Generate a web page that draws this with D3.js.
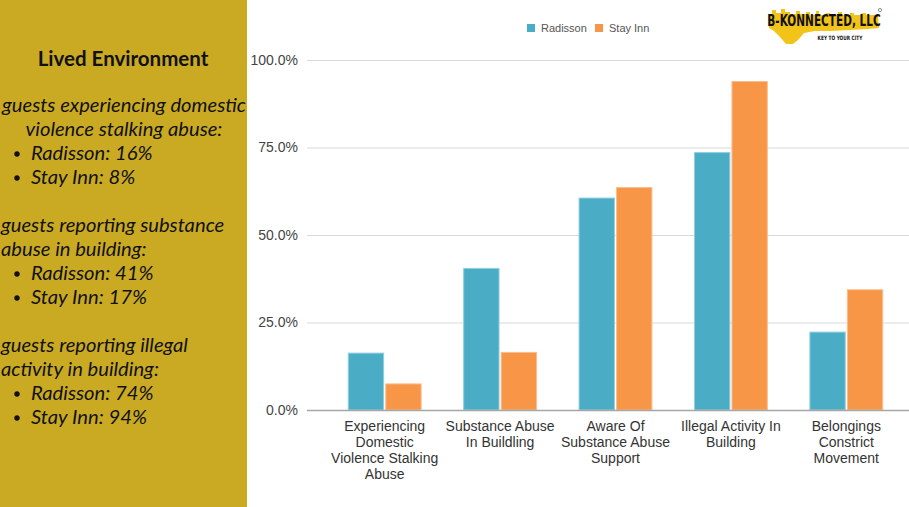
<!DOCTYPE html>
<html><head><meta charset="utf-8">
<script src="https://cdn.jsdelivr.net/npm/d3@7"></script>
<style>
html,body{margin:0;padding:0;background:#fff;}
svg{display:block;}
</style></head>
<body>
<svg id="chart" width="909" height="507"></svg>
<script>
const categories = [
  ["Experiencing","Domestic","Violence Stalking","Abuse"],
  ["Substance Abuse","In Buildling"],
  ["Aware Of","Substance Abuse","Support"],
  ["Illegal Activity In","Building"],
  ["Belongings","Constrict","Movement"]
];
const seriesNames = ["Radisson","Stay Inn"];
const radisson = [16.4, 40.6, 60.7, 73.7, 22.4];
const stayInn = [7.6, 16.6, 63.7, 94.0, 34.5];
const yTicks = [0, 25, 50, 75, 100];
const colors = ["#4BACC6","#F79646"];
const strokes = ["#8fd0e0","#fbbd8e"];

const panelTitle = "Lived Environment";
const panelBlocks = [
  {lines:["guests experiencing domestic","violence stalking abuse:"], center:true, bullets:["Radisson: 16%","Stay Inn: 8%"]},
  {lines:["guests reporting substance","abuse in building:"], center:false, bullets:["Radisson: 41%","Stay Inn: 17%"]},
  {lines:["guests reporting illegal","activity in building:"], center:false, bullets:["Radisson: 74%","Stay Inn: 94%"]}
];

const svg = d3.select("#chart");

// left panel
svg.append("rect").attr("x",0).attr("y",0).attr("width",247).attr("height",507).attr("fill","#CAAA23");
svg.append("text").attr("x",123).attr("y",66).attr("text-anchor","middle")
  .attr("font-family","Lato, 'Open Sans', sans-serif").attr("font-weight","bold").attr("font-size",20.5)
  .attr("fill","#111").text(panelTitle);

const panelFont = 20.2;
let yy = 112;
panelBlocks.forEach(b => {
  b.lines.forEach(l => {
    svg.append("text").attr("x", b.center ? 124 : 1).attr("y", yy)
      .attr("text-anchor", b.center ? "middle" : "start")
      .attr("font-family","Lato, 'Open Sans', sans-serif").attr("font-style","italic").attr("font-size",panelFont)
      .attr("fill","#111").text(l);
    yy += 24;
  });
  b.bullets.forEach(t => {
    svg.append("circle").attr("cx",17).attr("cy",yy-6).attr("r",2.7).attr("fill","#111");
    svg.append("text").attr("x",31).attr("y",yy)
      .attr("font-family","Lato, 'Open Sans', sans-serif").attr("font-style","italic").attr("font-size",panelFont)
      .attr("fill","#111").text(t);
    yy += 24;
  });
  yy += 24;
});

// chart
const y = d3.scaleLinear().domain([0,100]).range([410,60]);
const x = d3.scaleBand().domain(d3.range(categories.length)).range([327,904]).paddingInner(0.36).paddingOuter(0.18);
const xs = d3.scaleBand().domain(seriesNames).range([0, x.bandwidth()]).paddingInner(0.03);

// gridlines
svg.append("g").selectAll("line").data(yTicks.filter(d=>d>0)).join("line")
  .attr("x1",307).attr("x2",909).attr("y1",d=>y(d)+0.5).attr("y2",d=>y(d)+0.5)
  .attr("stroke","#d9d9d9").attr("stroke-width",1);

// y axis labels
const yAxis = d3.axisLeft(y).tickValues(yTicks).tickFormat(d=>d.toFixed(1)+"%").tickSize(0).tickPadding(0);
const ga = svg.append("g").attr("transform","translate(298,0)").call(yAxis);
ga.select(".domain").remove();
ga.selectAll("text").attr("font-family","'Liberation Sans', Arial, sans-serif").attr("font-size",14).attr("fill","#444");

// bars
const data = categories.map((c,i)=>({i, vals:[radisson[i], stayInn[i]]}));
const groups = svg.append("g").selectAll("g").data(data).join("g")
  .attr("transform", d=>`translate(${x(d.i)},0)`);
groups.selectAll("rect").data(d=>d.vals.map((v,k)=>({v,k}))).join("rect")
  .attr("x", d=>xs(seriesNames[d.k])+0.5)
  .attr("y", d=>y(d.v)+0.5)
  .attr("width", xs.bandwidth()-1)
  .attr("height", d=>y(0)-y(d.v)-0.5)
  .attr("fill", d=>colors[d.k])
  .attr("stroke", d=>strokes[d.k]).attr("stroke-width",1);

// baseline
svg.append("line").attr("x1",307).attr("x2",909).attr("y1",410.5).attr("y2",410.5)
  .attr("stroke","#a6a6a6").attr("stroke-width",1.3);

// x labels
const xl = svg.append("g").selectAll("text").data(categories).join("text")
  .attr("text-anchor","middle")
  .attr("font-family","'Liberation Sans', Arial, sans-serif").attr("font-size",14).attr("fill","#333");
xl.each(function(lines,i){
  const t = d3.select(this);
  lines.forEach((l,j)=>{
    t.append("tspan").attr("x", x(i)+x.bandwidth()/2).attr("y", 431 + j*16).text(l);
  });
});

// legend
const lg = svg.append("g");
const legX = [527, 595];
seriesNames.forEach((s,k)=>{
  lg.append("rect").attr("x",legX[k]).attr("y",24).attr("width",8).attr("height",8).attr("fill",colors[k]);
  lg.append("text").attr("x",legX[k]+14).attr("y",32).attr("font-family","'Liberation Sans', Arial, sans-serif")
    .attr("font-size",11).attr("fill","#555").text(s);
});

// logo
const logo = svg.append("g");
const sky = [[769,14],[772,14],[772,10],[776,10],[776,13],[781,13],[781,9],[785,9],[785,12],[790,12],[790,14],[796,14],[796,11],[800,11],[800,14],
  [806,14],[806,12],[810,12],[810,15],[816,15],[816,11],[819,11],[819,15],[826,15],[826,13],[830,13],[830,15],[838,15],[838,12],[842,12],[842,15],
  [850,15],[850,13],[854,13],[854,15],[862,15],[862,13],[866,13],[866,15],[878,15],[879,28],[868,29],[850,30],[830,31],[815,31],[804,33],[798,40],
  [793,44],[786,44],[780,37],[774,31],[769,28]];
logo.append("path").attr("d", d3.line()(sky)+"Z").attr("fill","#F2C318");
logo.append("g").attr("transform","translate(824,26) scale(0.78,1)")
  .append("text").attr("x",0).attr("y",0).attr("text-anchor","middle")
  .attr("font-family","'DejaVu Sans Condensed', 'Liberation Sans Narrow', sans-serif").attr("font-weight","bold")
  .attr("font-size",15).attr("fill","#111").text("B-KONNECTED, LLC");
logo.append("g").attr("transform","translate(840,40) scale(0.8,1)")
  .append("text").attr("x",0).attr("y",0).attr("text-anchor","middle")
  .attr("font-family","'DejaVu Sans Condensed', sans-serif").attr("font-weight","bold")
  .attr("font-size",6).attr("fill","#111").text("KEY TO YOUR CITY");
logo.append("circle").attr("cx",880).attr("cy",10).attr("r",1.6).attr("fill","none").attr("stroke","#444").attr("stroke-width",0.6);
</script>
</body></html>
